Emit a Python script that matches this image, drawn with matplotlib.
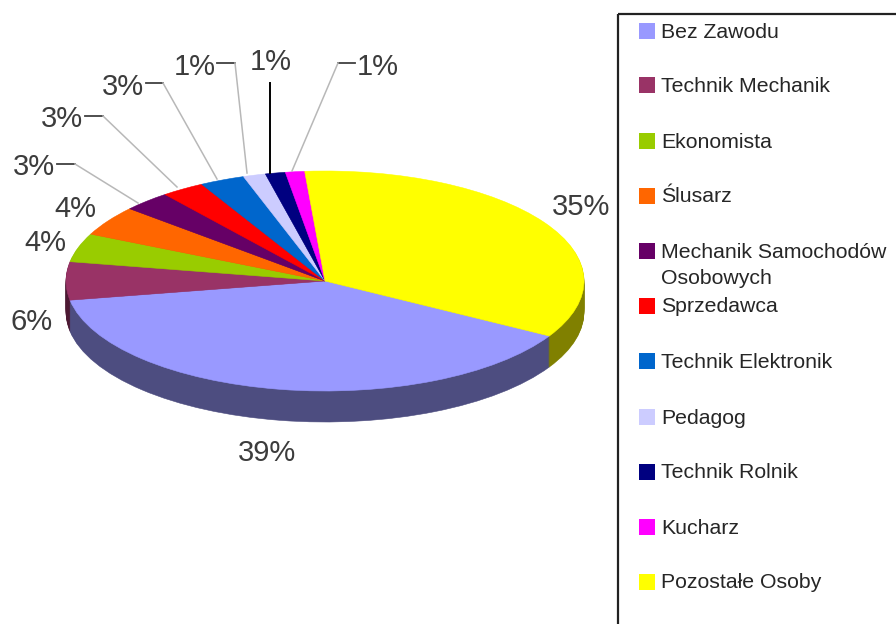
"""Squashed pie with a faked 3D rim, side legend box and leader lines."""
import matplotlib
matplotlib.use("Agg")
import matplotlib.pyplot as plt
from matplotlib.lines import Line2D
from matplotlib.patches import Rectangle
from matplotlib.transforms import Affine2D

plt.rcParams["font.family"] = ["Liberation Sans", "DejaVu Sans"]

W, H = 896, 624

# clockwise, starting at the right-hand edge of the big blue slice
names = ["Bez Zawodu", "Technik Mechanik", "Ekonomista", "Ślusarz",
         "Mechanik Samochodów\nOsobowych", "Sprzedawca", "Technik Elektronik",
         "Pedagog", "Technik Rolnik", "Kucharz", "Pozostałe Osoby"]
shares = [38.9, 5.6, 4.2, 4.4, 3.0, 2.7, 2.8, 1.4, 1.25, 1.2, 34.6]
colors = ["#9999ff", "#993366", "#99cc00", "#ff6600", "#660066", "#ff0000",
          "#0066cc", "#ccccff", "#000080", "#ff00ff", "#ffff00"]
sides = ["#4d4d80", "#4d1933", "#4d6600", "#803300", "#330033", "#800000",
         "#003366", "#666680", "#000040", "#800080", "#808000"]

# layout, in reference pixels
CX, CY, RX, RY, DEPTH = 325, 281, 259, 110, 31
START = -30
label_pos = [(267, 453), (32, 322), (45, 243), (75, 209), (34, 167), (62, 119),
             (123, 87), (195, 67), (271, 62), (378, 67), (581, 207)]
legend_y = [31, 85, 141, 196, 251, 306, 361, 417, 472, 527, 582]
TEXT_DY = 1
# (dash start, elbow, rim end) per slice with a leader line
leaders = {
    4: [(57, 164), (75, 164), (138, 203)],
    5: [(85, 116), (103, 116), (177, 187)],
    6: [(146, 83), (163, 83), (217, 179)],
    7: [(217, 63), (235, 63), (247, 173)],
    9: [(355, 63), (338, 63), (292, 171)],
}
navy_leader = [(270, 83), (270, 173)]

fig = plt.figure(figsize=(W / 100, H / 100), dpi=100)
ax = fig.add_axes([0, 0, 1, 1])
px = Affine2D().scale(1 / W, -1 / H).translate(0, 1) + fig.transFigure


def draw_pie(cols, drop):
    wedges, _ = ax.pie(shares, colors=cols, startangle=START, counterclock=False,
                       radius=1, center=(0, -drop / RY))
    for w in wedges:
        w.set_edgecolor(w.get_facecolor())
        w.set_linewidth(0.4)


for d in range(DEPTH, 0, -1):
    draw_pie(sides, d)
draw_pie(colors, 0)

ax.set_aspect("auto")
ax.set_xlim(-CX / RX, (W - CX) / RX)
ax.set_ylim(-(H - CY) / RY, CY / RY)
ax.axis("off")

# percent labels
for v, (x, y) in zip(shares, label_pos):
    fig.text(x, y, f"{v:.0f}%", transform=px, fontsize=21, color="#3c3c3c",
             ha="center", va="center")

# leader lines: dark dash, then grey run to the rim
for pts in leaders.values():
    fig.add_artist(Line2D([pts[0][0], pts[1][0]], [pts[0][1], pts[1][1]],
                          transform=px, color="#404040", lw=1.3))
    fig.add_artist(Line2D([pts[1][0], pts[2][0]], [pts[1][1], pts[2][1]],
                          transform=px, color="#b8b8b8", lw=1.1))
fig.add_artist(Line2D([p[0] for p in navy_leader], [p[1] for p in navy_leader],
                      transform=px, color="#000000", lw=1.4))

# legend box runs off the right and bottom edges
fig.add_artist(Rectangle((618, 14), 300, 640, transform=px, fill=False,
                         edgecolor="#222222", lw=1.6))
for name, col, y in zip(names, colors, legend_y):
    fig.add_artist(Rectangle((639, y - 8), 16, 16, transform=px, facecolor=col,
                             edgecolor="none"))
    lines = name.split("\n")
    for i, line in enumerate(lines):
        fig.text(661, y + TEXT_DY + i * 27, line, transform=px, fontsize=15.3,
                 color="#262626", ha="left", va="center")

fig.savefig("out.png", dpi=100)
plt.close(fig)
